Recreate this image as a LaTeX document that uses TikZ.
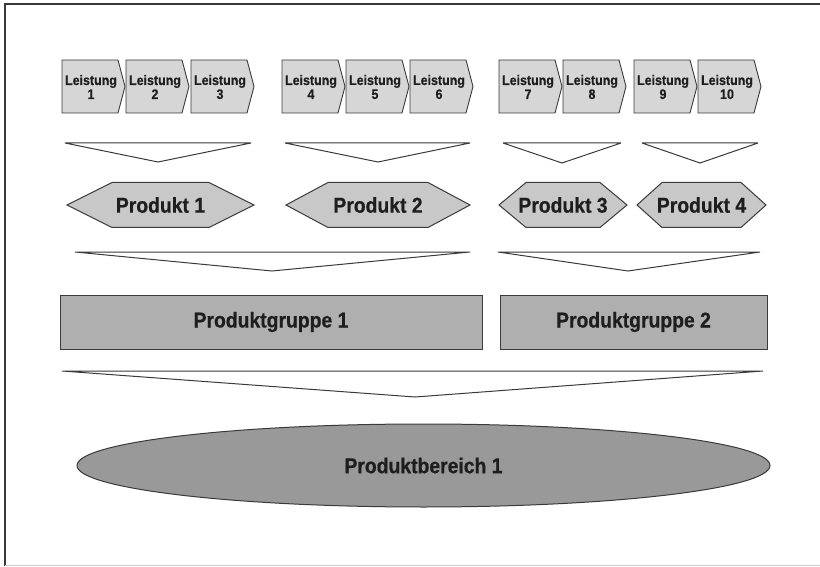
\documentclass[tikz,border=0pt]{standalone}
\usepackage{fontspec}
\setmainfont{Liberation Sans}
\newfontfamily\condfont[FakeStretch=0.9,BoldFeatures={FakeBold=0.6}]{Liberation Sans}
\usetikzlibrary{shapes.geometric}
\definecolor{lfill}{HTML}{D6D6D6}
\definecolor{pfill}{HTML}{C8C8C8}
\definecolor{gfill}{HTML}{AFAFAF}
\definecolor{efill}{HTML}{999999}
\definecolor{edge}{HTML}{3A3A3A}
\definecolor{ink}{HTML}{1E1E1E}
\tikzset{
  lbox/.style={fill=lfill,draw=edge,line width=0.9pt,line join=miter},
  ltext/.style={font=\condfont\bfseries\fontsize{13.8}{14}\selectfont,text=ink,align=center,inner sep=0pt},
  hexbox/.style={fill=pfill,draw=edge,line width=1pt},
  ptext/.style={font=\condfont\bfseries\fontsize{21.5}{22}\selectfont,text=ink,inner sep=0pt},
  gbox/.style={rectangle,fill=gfill,draw=edge,line width=1pt,inner sep=0pt,
    font=\condfont\bfseries\fontsize{21.5}{22}\selectfont,text=ink},
  funnel/.style={fill=white,draw=edge,line width=1pt,line join=miter,miter limit=3},
  ebox/.style={ellipse,fill=efill,draw=edge,line width=1pt,inner sep=0pt,
    font=\condfont\bfseries\fontsize{21.5}{22}\selectfont,text=ink},
  frame/.style={draw=edge,line width=1.2pt}
}
\newcommand\leistbox[2]{%
  \draw[lbox] (#1,60) -- ({#1+56},60) -- ({#1+63},86.5) -- ({#1+56},113) -- (#1,113) -- cycle;
  \node[ltext] (L#2) at ({#1+29},87) {Leistung\\#2};
}
\newcommand\prodhex[5]{% left tip, inset, right tip, name, number
  \draw[hexbox] (#1,205) -- ({#1+#2},182.5) -- ({#3-#2},182.5) -- (#3,205) -- ({#3-#2},227.5) -- ({#1+#2},227.5) -- cycle;
  \node[ptext] (#4) at ({(#1+#3)/2},205) {Produkt #5};
}
\newcommand\funnelshape[5]{% left, right, top y, apex x, apex y
  \draw[funnel] (#1,#3) -- (#2,#3) -- (#4,#5) -- cycle;
}
\begin{document}
\begin{tikzpicture}[x=1pt,y=-1pt]
\useasboundingbox (0,0) rectangle (820,567);
% outer frame
\draw[frame] (5,566) -- (5,4) -- (821,4);
\draw[draw=edge!25,line width=0.8pt] (5,565.5) -- (821,565.5);
% Leistungen
\leistbox{62}{1}
\leistbox{126}{2}
\leistbox{191}{3}
\leistbox{282}{4}
\leistbox{346}{5}
\leistbox{410}{6}
\leistbox{499}{7}
\leistbox{563}{8}
\leistbox{634}{9}
\leistbox{698}{10}
% funnels row 1
\funnelshape{65}{251}{143}{158}{162}
\funnelshape{285}{470}{143}{378}{162}
\funnelshape{503}{621}{143}{562}{163}
\funnelshape{642}{758}{143}{700}{163}
% Produkte
\prodhex{67}{45}{254}{P1}{1}
\prodhex{286}{42}{470}{P2}{2}
\prodhex{499}{27}{627}{P3}{3}
\prodhex{637}{25}{766}{P4}{4}
% funnels row 2
\funnelshape{75}{470}{252}{272}{271}
\funnelshape{498}{760}{252}{628}{271}
% Produktgruppen
\node[gbox,minimum width=422pt,minimum height=54pt] (G1) at (271,322) {Produktgruppe 1};
\node[gbox,minimum width=267pt,minimum height=54pt] (G2) at (633.5,322) {Produktgruppe 2};
% funnel row 3
\funnelshape{62}{763}{371}{415}{397}
% Produktbereich
\node[ebox,minimum width=693pt,minimum height=83pt] (B1) at (423.5,465.5) {Produktbereich 1};
\end{tikzpicture}
\end{document}
